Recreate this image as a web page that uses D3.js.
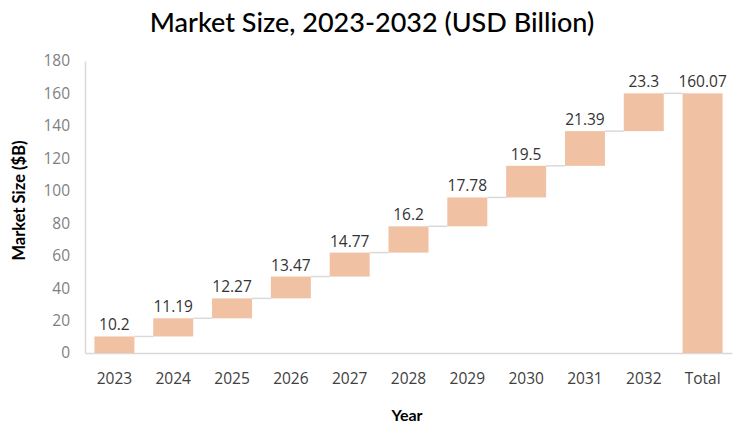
<!DOCTYPE html>
<html>
<head>
<meta charset="utf-8">
<script src="https://cdn.jsdelivr.net/npm/d3@7"></script>
<style>
  body { margin: 0; background: #fff; }
  text { font-family: "Open Sans", "Liberation Sans", sans-serif; }
  .title { font-family: Lato, "Open Sans", sans-serif; }
</style>
</head>
<body>
<div id="chart"></div>
<script>
const categories = ["2023", "2024", "2025", "2026", "2027", "2028", "2029", "2030", "2031", "2032", "Total"];
const increments = [10.2, 11.19, 12.27, 13.47, 14.77, 16.2, 17.78, 19.5, 21.39, 23.3];
const totalValue = 160.07;
const yTicks = [0, 20, 40, 60, 80, 100, 120, 140, 160, 180];

const width = 738;
const height = 435;
const margin = { left: 85, right: 6, top: 61, bottom: 82 };

const svg = d3.select("#chart")
    .append("svg")
    .attr("width", width)
    .attr("height", height);

// running totals for the waterfall steps
let running = 0;
const bars = increments.map((v, i) => {
    const start = running;
    running += v;
    return { cat: categories[i], start: start, end: running, label: String(v) };
});
bars.push({ cat: "Total", start: 0, end: totalValue, label: totalValue.toFixed(2) });

const xScale = d3.scaleBand()
    .domain(categories)
    .range([margin.left, width - margin.right])
    .paddingInner(0.32)
    .paddingOuter(0.16);

const yScale = d3.scaleLinear()
    .domain([0, 180])
    .range([height - margin.bottom, margin.top]);

// axes
const xAxis = svg.append("g")
    .attr("transform", `translate(0, ${height - margin.bottom})`)
    .call(d3.axisBottom(xScale).tickSize(0).tickPadding(20));
xAxis.select(".domain").attr("stroke", "#d9d9d9").attr("stroke-width", 1.5);
xAxis.selectAll("text").attr("font-size", "15.5px").attr("fill", "#404040");

const yAxis = svg.append("g")
    .attr("transform", `translate(${margin.left}, 0)`)
    .call(d3.axisLeft(yScale).tickValues(yTicks).tickSize(0).tickPadding(15));
yAxis.select(".domain").attr("stroke", "#d9d9d9").attr("stroke-width", 1.5);
yAxis.selectAll("text").attr("font-size", "15.5px").attr("fill", "#7f7f7f");

// connectors between steps
svg.append("g")
    .selectAll("line")
    .data(bars.slice(0, -1))
    .join("line")
    .attr("x1", d => xScale(d.cat) + xScale.bandwidth())
    .attr("x2", (d, i) => xScale(bars[i + 1].cat))
    .attr("y1", d => yScale(d.end))
    .attr("y2", d => yScale(d.end))
    .attr("stroke", "#d9d9d9")
    .attr("stroke-width", 1.5);

svg.append("g")
    .selectAll("rect")
    .data(bars)
    .join("rect")
    .attr("x", d => xScale(d.cat))
    .attr("y", d => yScale(d.end))
    .attr("width", xScale.bandwidth())
    .attr("height", d => yScale(d.start) - yScale(d.end))
    .attr("fill", "#f1c1a4");

svg.append("g")
    .selectAll("text")
    .data(bars)
    .join("text")
    .attr("x", d => xScale(d.cat) + xScale.bandwidth() / 2)
    .attr("y", d => yScale(d.end) - 6)
    .attr("text-anchor", "middle")
    .attr("font-size", "15.5px")
    .attr("fill", "#333")
    .text(d => d.label);

// title and axis titles
svg.append("text")
    .attr("class", "title")
    .attr("x", 372)
    .attr("y", 32)
    .attr("text-anchor", "middle")
    .attr("font-size", "27px")
    .attr("font-weight", 500)
    .attr("fill", "#000")
    .text("Market Size, 2023-2032 (USD Billion)");

svg.append("text")
    .attr("class", "title")
    .attr("x", 407)
    .attr("y", 421)
    .attr("text-anchor", "middle")
    .attr("font-size", "16px")
    .attr("font-weight", "bold")
    .attr("fill", "#000")
    .text("Year");

svg.append("text")
    .attr("class", "title")
    .attr("transform", `translate(25, ${yScale(94)}) rotate(-90)`)
    .attr("text-anchor", "middle")
    .attr("font-size", "16.5px")
    .attr("font-weight", "bold")
    .attr("fill", "#000")
    .text("Market Size ($B)");
</script>
</body>
</html>
